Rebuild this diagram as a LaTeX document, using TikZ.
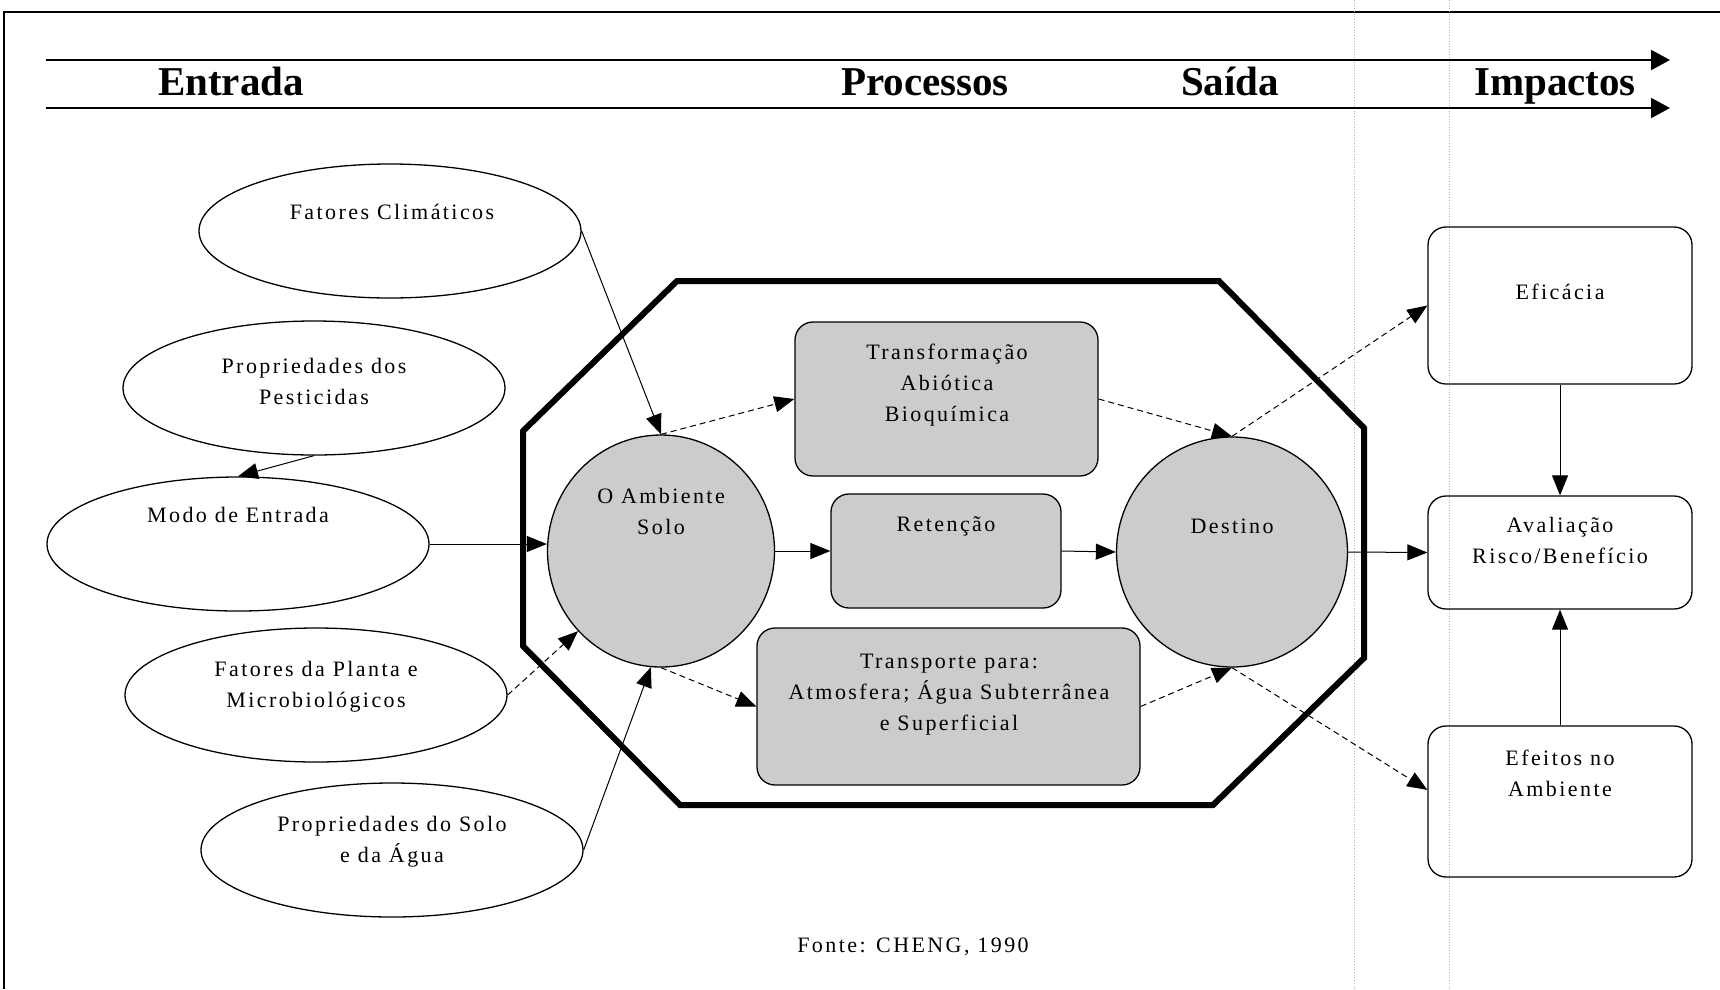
\documentclass[tikz,border=0pt]{standalone}
\usepackage{fontspec}
\setmainfont{Liberation Serif}
\newfontfamily\lblfont[LetterSpace=11]{Liberation Serif}
\usetikzlibrary{shapes.geometric,arrows.meta}
\definecolor{stip}{gray}{0.8}
\begin{document}
\begin{tikzpicture}[x=1pt,y=-1pt,
  ell/.style={draw, ellipse, inner sep=0pt, line width=1.3pt, minimum width=382pt, minimum height=134pt},
  circ/.style={draw, ellipse, inner sep=0pt, line width=1.3pt, fill=stip},
  gbox/.style={draw, rectangle, rounded corners=18pt, inner sep=0pt, line width=1.3pt, fill=stip},
  wbox/.style={draw, rectangle, rounded corners=18pt, inner sep=0pt, line width=1.3pt, minimum width=264pt},
  lbl/.style={font=\lblfont\fontsize{22}{31}\selectfont, align=center, inner sep=0pt},
  hdr/.style={font=\bfseries\fontsize{41}{41}\selectfont, anchor=base, inner sep=0pt},
  arr/.style={-{Triangle[length=20pt,width=16pt]}, line width=1pt},
  darr/.style={arr, dash pattern=on 6pt off 4pt},
  harr/.style={-{Triangle[length=19pt,width=20pt]}, line width=2pt}]
\useasboundingbox (0,0) rectangle (1720,989);
% frame and guide lines
\draw[line width=1.5pt] (4,989) -- (4,12) -- (1720,12);
\draw[gray!60, dotted, line width=0.7pt] (1354,0) -- (1354,989);
\draw[gray!60, dotted, line width=0.7pt] (1449,0) -- (1449,989);
% header
\coordinate (h1a) at (46,60);
\coordinate (h1b) at (1670,60);
\coordinate (h2a) at (46,108);
\coordinate (h2b) at (1670,108);
\draw[harr] (h1a) -- (h1b);
\draw[harr] (h2a) -- (h2b);
\node[hdr] (tEnt) at (231,95) {Entrada};
\node[hdr] (tProc) at (925,95) {Processos};
\node[hdr] (tSai) at (1230,95) {Saída};
\node[hdr] (tImp) at (1555,95) {Impactos};
% octagon
\draw[line width=6pt, line join=miter] (523,431) -- (677,281) -- (1219,281) -- (1364,428) -- (1364,658) -- (1213,805) -- (680,805) -- (523,646) -- cycle;
% input ellipses
\node[ell] (clim) at (390,231) {};
\node[ell] (pest) at (314,388) {};
\node[ell] (modo) at (238,544) {};
\node[ell] (planta) at (316,695) {};
\node[ell] (solo) at (392,850) {};
\node[lbl] (climT) at (392,212) {Fatores Climáticos};
\node[lbl] (pestT) at (314,381) {Propriedades dos\\Pesticidas};
\node[lbl] (modoT) at (238,515) {Modo de Entrada};
\node[lbl] (plantaT) at (316,687) {Fatores da Planta e\\Microbiológicos};
\node[lbl] (soloT) at (392,842) {Propriedades do Solo\\e da Água};
% process shapes
\node[circ, minimum width=227pt, minimum height=232pt] (amb) at (661,551) {};
\node[circ, minimum width=231pt, minimum height=230pt] (dest) at (1232,552) {};
\node[gbox, minimum width=303pt, minimum height=154pt] (trans) at (946.5,399) {};
\node[gbox, minimum width=230pt, minimum height=114pt] (ret) at (946,551) {};
\node[gbox, minimum width=383pt, minimum height=157pt] (transp) at (948.5,706.5) {};
\node[lbl] (ambT) at (661,511) {O Ambiente\\Solo};
\node[lbl] (destT) at (1232,526) {Destino};
\node[lbl] (transT) at (947,385) {Transformação\\Abiótica\\Bioquímica};
\node[lbl] (retT) at (946,526) {Retenção};
\node[lbl] (transpT) at (949,695) {Transporte para:\\Atmosfera; Água Subterrânea\\e Superficial};
% impact boxes
\node[wbox, minimum height=157pt] (efic) at (1560,305.5) {};
\node[wbox, minimum height=113pt] (aval) at (1560,552.5) {};
\node[wbox, minimum height=151pt] (efei) at (1560,801.5) {};
\node[lbl] (eficT) at (1560,292) {Eficácia};
\node[lbl] (avalT) at (1560,540) {Avaliação\\Risco/Benefício};
\node[lbl] (efeiT) at (1560,773) {Efeitos no\\Ambiente};
% source
\node[lbl] (fonte) at (913,947) {Fonte: CHENG, 1990};
% connectors
\draw[arr] (clim.east) -- (amb.north);
\draw[arr] (pest.south) -- (modo.north);
\draw[arr] (modo.east) -- (modo.east -| amb.west);
\draw[darr] (planta.east) -- (amb.224);
\draw[arr] (solo.east) -- (amb.265);
\draw[darr] (amb.north) -- (trans.west);
\draw[arr] (amb.east) -- (ret.west);
\draw[darr] (amb.south) -- (transp.west);
\draw[darr] (trans.east) -- (dest.north);
\draw[arr] (ret.east) -- (dest.west);
\draw[darr] (transp.east) -- (dest.south);
\draw[darr] (dest.north) -- (efic.west);
\draw[arr] (dest.east) -- (aval.west);
\draw[darr] (dest.south) -- (efei.175);
\draw[arr] (efic.south) -- (aval.north);
\draw[arr] (efei.north) -- (aval.south);
\end{tikzpicture}
\end{document}
